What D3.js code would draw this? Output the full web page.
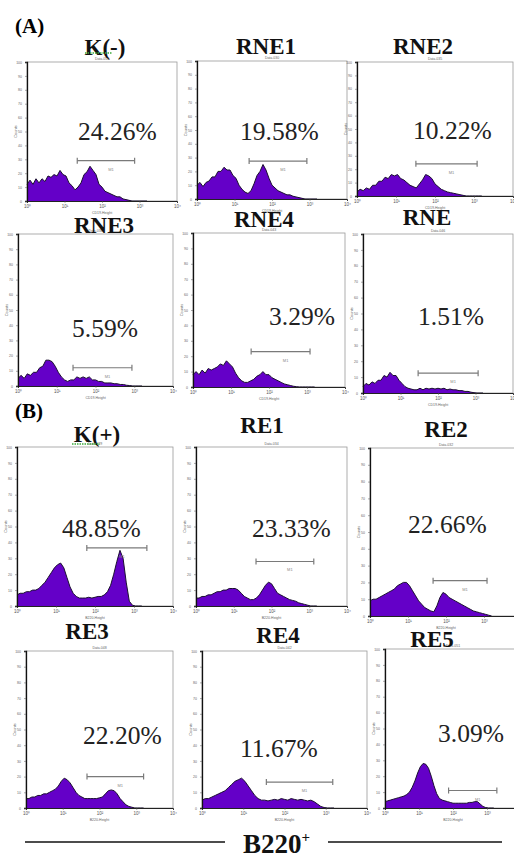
<!DOCTYPE html>
<html>
<head>
<meta charset="utf-8">
<script src="https://cdn.jsdelivr.net/npm/d3@7"></script>
<style>
  body { margin: 0; background: #fff; }
  svg { display: block; }
</style>
</head>
<body>
<svg id="chart"></svg>
<script>
// sample names and gated percentages (B220+)
const names = ["K(-)", "RNE1", "RNE2", "RNE3", "RNE4", "RNE", "K(+)", "RE1", "RE2", "RE3", "RE4", "RE5"];
const percents = ["24.26%", "19.58%", "10.22%", "5.59%", "3.29%", "1.51%", "48.85%", "23.33%", "22.66%", "22.20%", "11.67%", "3.09%"];

// histogram counts (% of axis height), one bin every 0.08 log10 units from 10^0
const binStep = 0.08;
const histKneg = [12,15,12,16,13,16,14,18,17,19,18,22,19,18,13,11,8,10,13,19,21,25,22,19,12,10,7,6,5,4,3,3,1.5,1,0.5,0,0,0,0,0,0];
const histRNE1 = [10,12,9,12,13,16,16,20,20,23,21,21,17,15,10,7,5,4,6,11,17,20,25,21,15,10,8,6,5,4,3,3,2,1.5,1,0.5,0,0,0,0,0];
const histRNE2 = [3,5,4,6,5,8,8,11,11,14,13,16,15,16,13,12,10,8,7,6,9,12,16,15,13,9,7,5,4,3,2.5,2,1.5,1,0.5,0,0,0,0,0,0];
const histRNE3 = [5,7,5,8,7,9,9,12,13,17,17,16,13,9,6,4,3,4,4,6,5,6,5,6,4,4,3,3,2,2,2,1.5,1.5,1,1,0.5,0.3,0,0,0,0];
const histRNE4 = [8,10,8,11,9,12,11,12,13,15,14,17,15,13,9,6,4,3,3,4,5,7,8,10,8,8,6,5,4,3,2,1.5,1,0.5,0.2,0,0,0,0,0,0];
const histRNE = [4,6,5,7,6,8,8,11,10,13,11,11,8,6,4,3,2.5,2,2,3,2,3,2.5,3,2.5,3,2.5,3,2,2.5,2,2,1.5,1.5,1,1,0.5,0.2,0,0,0];
const histKpos = [7,8,8,9,9,10,10,11,13,15,18,21,24,26,27,24,18,12,8,6,5,5,5,5.5,5,5.5,6,6,7,9,13,20,28,35,30,15,3,0.5,0,0,0];
const histRE1 = [5,5,6,6,7,7,8,9,9,10,10,11,11,11,10,8,6,5,4,4,5,7,10,13,15,14,11,8,7,6,5,4,3.5,3,2,1.5,1,0.5,0,0,0];
const histRE2 = [9,10,10,11,12,13,14,15,16,18,19,20,20,18,15,12,9,7,5,4,3,2.5,6,11,14,13,11,10,9,8,7,6,5,4,3,2.5,2,1.5,1,0.5,0];
const histRE3 = [6,6,7,7,8,8,9,9,10,11,12,14,17,19,18,16,13,10,8,7,6,6,6,6,6,6.5,7,9,11,11.5,11,9,6,4,2,1,0.5,0,0,0,0];
const histRE4 = [5,6,6,7,8,9,10,11,13,15,17,18,19,17,14,11,8,6,5,5,4.5,5,5.5,5,6,5.5,5,6,5.5,5,5.5,5,4.5,5,4,2.5,1,0.3,0,0,0];
const histRE5 = [4,4.5,5,5.5,6,6.5,7,7.5,8.5,10,13,17,22,26,28,27.5,25,20,14,9,6,5,4.5,4,3.5,3,3,3,3,3,3,3.5,3.5,4,4,2.5,1,0.3,0,0,0];
const hists = [histKneg, histRNE1, histRNE2, histRNE3, histRNE4, histRNE, histKpos, histRE1, histRE2, histRE3, histRE4, histRE5];

// marker gate: low / high bound (log10) and drawing level (% of axis)
const gateLow = [1.34, 1.39, 1.51, 1.42, 1.53, 1.47, 1.79, 1.59, 1.66, 1.66, 1.56, 1.87];
const gateHigh = [2.87, 2.93, 3.08, 2.94, 3.08, 3.07, 3.33, 3.12, 3.08, 3.2, 3.17, 3.29];
const gateLevel = [29, 27.5, 24, 12, 23, 12.5, 36.5, 28, 21, 20, 16.5, 11];
const dataFiles = ["Data.054", "Data.030", "Data.035", "Data.038", "Data.043", "Data.046", "Data.029", "Data.034", "Data.032", "Data.048", "Data.042", "Data.051"];

// ---- layout ----
const width = 514, height = 854;
// plot frames: left, top, right, bottom
const frames = [
  [27, 62, 177, 201], [197, 61, 347, 199], [357, 62, 513, 196],
  [18, 234, 173, 386], [193, 233, 345, 387], [363, 234, 513, 393],
  [17, 447, 173, 606], [196, 447, 347, 606], [370, 448, 522, 616],
  [26, 651, 173, 808], [202, 651, 367, 808], [385, 649, 521, 808]
];
const titlePos = [[105, 55], [266, 54], [423, 54], [104, 233], [264, 227], [427, 225],
                  [97, 442], [262, 433], [446, 437], [87, 639], [278, 643], [432, 647]];
const pctPos = [[78, 140], [240, 140], [413, 139], [72, 337], [269, 325], [418, 325],
                [62, 537], [252, 537], [408, 533], [83, 744], [240, 757], [438, 742]];

const purple = "#6400c8";
const serif = "'Liberation Serif', 'Times New Roman', serif";
const sans = "'Liberation Sans', Arial, sans-serif";
const sup = ["\u2070", "\u00b9", "\u00b2", "\u00b3", "\u2074"];

const svg = d3.select("#chart").attr("width", width).attr("height", height);

names.forEach((name, k) => {
  const [x0, y0, x1, y1] = frames[k];
  const x = d3.scaleLog().domain([1, 10000]).range([x0, x1]);
  const y = d3.scaleLinear().domain([0, 100]).range([y1, y0]);
  const g = svg.append("g");

  g.append("rect")
    .attr("x", x0).attr("y", y0)
    .attr("width", x1 - x0).attr("height", y1 - y0)
    .attr("fill", "#fff")
    .attr("stroke", "#9a9a9a")
    .attr("stroke-width", 0.8);

  const pts = hists[k].map((v, i) => ({ x: Math.pow(10, i * binStep), v: v }));

  g.append("path")
    .datum(pts)
    .attr("d", d3.area().x(d => x(d.x)).y0(y(0)).y1(d => y(d.v)))
    .attr("fill", purple);

  g.append("path")
    .datum(pts)
    .attr("d", d3.line().x(d => x(d.x)).y(d => y(d.v)))
    .attr("fill", "none")
    .attr("stroke", "#1b1030")
    .attr("stroke-width", 1);

  // axes
  const xAxis = d3.axisBottom(x)
    .ticks(4)
    .tickSize(2)
    .tickFormat(d => {
      const p = Math.round(Math.log10(d));
      return Math.abs(Math.log10(d) - p) < 1e-6 ? "10" + sup[p] : "";
    });
  const gx = g.append("g")
    .attr("transform", `translate(0,${y1})`)
    .call(xAxis);
  gx.select(".domain").attr("stroke", "#222").attr("stroke-width", 1);
  gx.selectAll(".tick line").attr("stroke", "#555").attr("stroke-width", 0.5);
  gx.selectAll("text").attr("font-size", 4.5).attr("font-family", sans).attr("fill", "#555").attr("dy", "0.5em");

  const yAxis = d3.axisLeft(y).ticks(8).tickSize(2).tickFormat(d3.format("d"));
  const gy = g.append("g")
    .attr("transform", `translate(${x0},0)`)
    .call(yAxis);
  gy.select(".domain").attr("stroke", "#111").attr("stroke-width", 1.3);
  gy.selectAll(".tick line").attr("stroke", "#555").attr("stroke-width", 0.5);
  gy.selectAll("text").attr("font-size", 3.5).attr("font-family", sans).attr("fill", "#666");

  g.append("text")
    .attr("transform", `translate(${x0 - 10},${(y0 + y1) / 2}) rotate(-90)`)
    .attr("text-anchor", "middle")
    .attr("font-family", sans).attr("font-size", 4).attr("fill", "#666")
    .text("Counts");

  g.append("text")
    .attr("x", (x0 + x1) / 2).attr("y", y1 + 13)
    .attr("text-anchor", "middle")
    .attr("font-family", sans).attr("font-size", 3.5).attr("fill", "#666")
    .text(k < 6 ? "CD19-Height" : "B220-Height");

  g.append("text")
    .attr("x", (x0 + x1) / 2).attr("y", y0 - 2)
    .attr("text-anchor", "middle")
    .attr("font-family", sans).attr("font-size", 3.5).attr("fill", "#666")
    .text(dataFiles[k]);

  // marker gate
  const ga = x(Math.pow(10, gateLow[k])), gb = x(Math.pow(10, gateHigh[k])), gyv = y(gateLevel[k]);
  const gate = g.append("g").attr("stroke", "#7a7a7a").attr("stroke-width", 1.2);
  gate.append("line").attr("x1", ga).attr("x2", gb).attr("y1", gyv).attr("y2", gyv);
  gate.append("line").attr("x1", ga).attr("x2", ga).attr("y1", gyv - 3).attr("y2", gyv + 3);
  gate.append("line").attr("x1", gb).attr("x2", gb).attr("y1", gyv - 3).attr("y2", gyv + 3);
  g.append("text")
    .attr("x", (ga + gb) / 2 + 5).attr("y", gyv + 10)
    .attr("text-anchor", "middle")
    .attr("font-family", sans).attr("font-size", 4).attr("fill", "#888")
    .text("M1");

  // sample title
  g.append("text")
    .attr("x", titlePos[k][0]).attr("y", titlePos[k][1])
    .attr("text-anchor", "middle")
    .attr("font-family", serif).attr("font-weight", "bold")
    .attr("font-size", 23).attr("fill", "#111")
    .text(name);

  // percentage
  g.append("text")
    .attr("x", pctPos[k][0]).attr("y", pctPos[k][1])
    .attr("font-family", serif).attr("font-size", 25.5).attr("fill", "#222")
    .text(percents[k]);
});

// spell-check squiggles under the control titles
[[85, 112, 53], [72, 100, 444]].forEach(([a, b, yy]) => {
  svg.append("line")
    .attr("x1", a).attr("x2", b).attr("y1", yy).attr("y2", yy)
    .attr("stroke", "#3caa3c").attr("stroke-width", 1.4)
    .attr("stroke-dasharray", "1.5,1");
});

// section labels
svg.append("text").attr("x", 15).attr("y", 33)
  .attr("font-family", serif).attr("font-weight", "bold").attr("font-size", 21)
  .text("(A)");
svg.append("text").attr("x", 15).attr("y", 418)
  .attr("font-family", serif).attr("font-weight", "bold").attr("font-size", 21)
  .text("(B)");

// bottom marker label
svg.append("line").attr("x1", 25).attr("x2", 225).attr("y1", 842).attr("y2", 842)
  .attr("stroke", "#111").attr("stroke-width", 1.6);
svg.append("line").attr("x1", 328).attr("x2", 502).attr("y1", 842).attr("y2", 842)
  .attr("stroke", "#111").attr("stroke-width", 1.6);
const b220 = svg.append("text").attr("x", 243).attr("y", 853)
  .attr("font-family", serif).attr("font-weight", "bold").attr("font-size", 27).attr("fill", "#111");
b220.append("tspan").text("B220");
b220.append("tspan").attr("dy", -11).attr("font-size", 15).text("+");
</script>
</body>
</html>
